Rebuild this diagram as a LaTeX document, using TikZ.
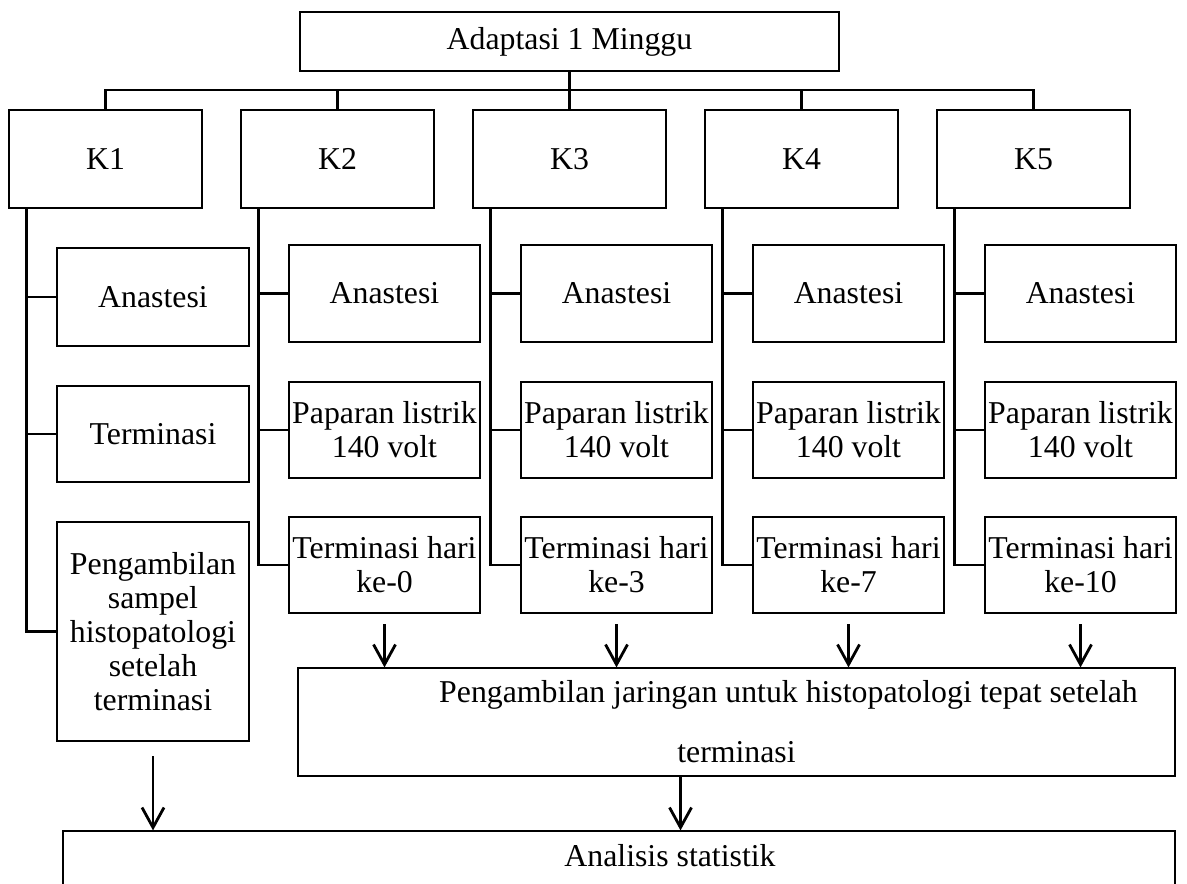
\documentclass[tikz,border=0pt]{standalone}
\usepackage{fontspec}
\setmainfont{Liberation Serif}
\usetikzlibrary{arrows.meta}
\tikzset{
    kbox/.style={draw, line width=1.3pt, inner sep=0pt, minimum width=96.5pt, minimum height=49pt},
    subbox/.style={draw, line width=1.3pt, inner sep=0pt, align=center, minimum width=95.5pt, minimum height=48pt},
    thinbox/.style={draw, line width=0.6pt, inner sep=0pt, align=center},
    link/.style={line width=1.3pt},
    arr/.style={line width=1.4pt, -{Straight Barb[length=10pt,width=11pt]}}
}
\begin{document}
\begin{tikzpicture}[x=0.5pt, y=-0.5pt, font=\fontsize{15.9pt}{17pt}\selectfont]
        \clip (0,0) rectangle (1187,883);
        \node[kbox, minimum width=269.5pt, minimum height=29.5pt] (top) at (569.5,41.5) {Adaptasi 1 Minggu};
        \coordinate (bus) at (0,90);
        \foreach \i in {1,...,5}
            \node[kbox] (k\i) at ({105.5+232*(\i-1)},159) {K\i};

        \draw[link] (k1.north) |- (k5.north |- bus) -- (k5.north);
        \foreach \i in {2,3,4}
            \draw[link] (k\i.north) -- (k\i.north |- bus);
        \draw[link] (top.south) -- (top.south |- bus);
        \foreach \i in {1,...,5}
            \coordinate (s\i) at ([xshift=9.5pt]k\i.south west);

        \node[subbox, minimum width=96pt, minimum height=49pt] (an1) at (153,297) {Anastesi};
        \node[subbox, minimum width=96pt] (te1) at (153,434) {Terminasi};
        \node[subbox, minimum width=96pt, minimum height=109.5pt] (pe1) at (153,631.5) {Pengambilan\\sampel\\histopatologi\\setelah\\terminasi};
        \foreach \b in {an1,te1,pe1}
            \draw[link] (s1) |- (\b.west);

        \foreach \i/\d in {2/0,3/3,4/7,5/10} {
            \node[subbox, minimum height=48.5pt] (an\i) at ({384.5+232*(\i-2)},293.5) {Anastesi};
            \node[subbox] (pl\i) at ({384.5+232*(\i-2)},430) {Paparan listrik\\140 volt};
            \node[subbox] (th\i) at ({384.5+232*(\i-2)},565) {Terminasi hari\\ke-\d};
            \draw[link] (s\i) |- (an\i.west);
            \draw[link] (s\i) |- (pl\i.west);
            \draw[link] (s\i) |- (th\i.west);
        }

        \node[thinbox, minimum width=438.5pt, minimum height=54pt] (mid) at (736.5,722) {\hspace*{52pt}Pengambilan jaringan untuk histopatologi tepat setelah\\[13pt]terminasi};
        \foreach \i in {2,...,5}
            \draw[arr] ([yshift=-5pt]th\i.south) -- (th\i.south |- mid.north);

        \node[thinbox, minimum width=556pt, minimum height=50pt] (stat) at (619,881) {};
        \node (stattext) at (670,856) {Analisis statistik};
        \draw[arr] ([yshift=-7pt]pe1.south) -- (pe1.south |- stat.north);
        \draw[arr] ([xshift=-28pt]mid.south) -- ([xshift=-28pt]mid.south |- stat.north);
\end{tikzpicture}
\end{document}
